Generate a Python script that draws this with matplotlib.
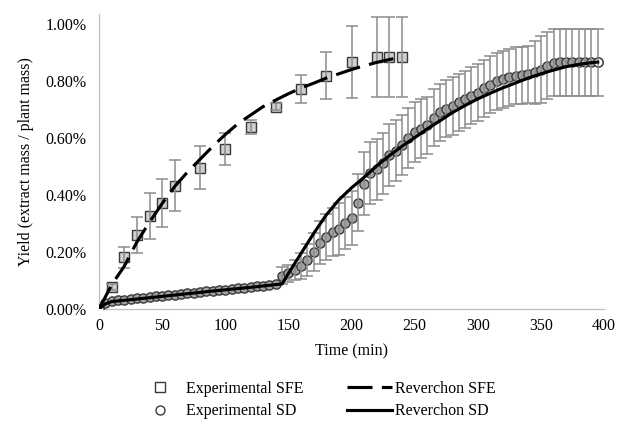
import matplotlib
matplotlib.use("Agg")
import matplotlib.pyplot as plt
from matplotlib.lines import Line2D
from matplotlib.ticker import FuncFormatter

plt.rcParams['font.family'] = ['Liberation Serif', 'DejaVu Serif']

# ---------------- data (yield in %) ----------------
t_sfe = [10, 20, 30, 40, 50, 60, 80, 100, 120, 140, 160, 180, 200, 220, 230, 240]
y_sfe = [0.077, 0.182, 0.260, 0.326, 0.372, 0.433, 0.495, 0.561, 0.639, 0.709,
         0.772, 0.818, 0.867, 0.884, 0.884, 0.884]
err_sfe = [0.010, 0.037, 0.062, 0.082, 0.084, 0.088, 0.075, 0.056, 0.025, 0.012,
           0.050, 0.082, 0.126, 0.140, 0.140, 0.140]

t_rev_sfe = [0, 10, 20, 30, 40, 50, 60, 70, 80, 90, 100, 110, 120, 130, 140, 150,
             160, 170, 180, 190, 200, 210, 220, 230, 240]
y_rev_sfe = [0.0, 0.085, 0.150, 0.235, 0.305, 0.370, 0.430, 0.480, 0.525, 0.570,
             0.612, 0.650, 0.680, 0.710, 0.733, 0.755, 0.775, 0.792, 0.810, 0.825,
             0.840, 0.853, 0.865, 0.875, 0.884]

t_sd = list(range(0, 400, 5))
y_sd = [0.000, 0.022, 0.027, 0.030, 0.032, 0.034, 0.037, 0.039, 0.041, 0.044,
        0.046, 0.048, 0.050, 0.053, 0.055, 0.057, 0.059, 0.062, 0.064, 0.066,
        0.068, 0.071, 0.073, 0.075, 0.077, 0.080, 0.082, 0.084, 0.086,
        0.116, 0.126, 0.137, 0.151, 0.172, 0.200, 0.232, 0.253, 0.270, 0.281,
        0.302, 0.319, 0.372, 0.439, 0.477, 0.490, 0.512, 0.540, 0.555, 0.575,
        0.600, 0.620, 0.633, 0.645, 0.670, 0.690, 0.703, 0.712, 0.725, 0.735,
        0.748, 0.759, 0.774, 0.786, 0.798, 0.805, 0.812, 0.818, 0.820, 0.823,
        0.830, 0.840, 0.853, 0.864,
        0.865, 0.865, 0.865, 0.865, 0.865, 0.865, 0.865]
err_sd = [0.0] * 29 + [
        0.030, 0.030, 0.035, 0.045, 0.055, 0.065, 0.075, 0.080, 0.085, 0.090,
        0.090, 0.095, 0.100, 0.110, 0.110, 0.107, 0.107, 0.108, 0.107, 0.106,
        0.105, 0.105, 0.103, 0.100, 0.100, 0.100, 0.100, 0.100, 0.100, 0.100,
        0.100, 0.100, 0.100, 0.100, 0.100, 0.100, 0.100, 0.100, 0.100, 0.100,
        0.110, 0.117, 0.118, 0.118,
        0.118, 0.118, 0.118, 0.118, 0.118, 0.118, 0.118]

t_rev_sd = [0, 5, 10, 30, 60, 90, 120, 145, 150, 160, 170, 180, 190, 200, 210, 220,
            230, 240, 250, 260, 270, 280, 290, 300, 310, 320, 330, 340, 350, 360,
            370, 380, 390, 395]
y_rev_sd = [0.0, 0.018, 0.026, 0.035, 0.049, 0.063, 0.076, 0.088, 0.125, 0.195,
            0.265, 0.330, 0.383, 0.425, 0.462, 0.502, 0.538, 0.571, 0.601, 0.632,
            0.660, 0.689, 0.714, 0.737, 0.757, 0.776, 0.793, 0.810, 0.825, 0.838,
            0.850, 0.858, 0.864, 0.866]

x_ticks = [0, 50, 100, 150, 200, 250, 300, 350, 400]
y_ticks = [0.0, 0.2, 0.4, 0.6, 0.8, 1.0]

# ---------------- figure ----------------
FS = 11.5
fig = plt.figure(figsize=(6.17, 4.24), dpi=100)
ax = fig.add_axes([0.1605, 0.2712, 0.8185, 0.696])

err_col = '#8c8c8c'
edge_col = '#3a3a3a'

# SFE experimental
ax.plot(t_sfe, y_sfe, linestyle='none', marker='s', markersize=7.2,
        markerfacecolor='#cfcfcf', markeredgecolor=edge_col, markeredgewidth=1.0,
        zorder=3)
ax.errorbar(t_sfe, y_sfe, yerr=err_sfe, fmt='none', ecolor=err_col,
            elinewidth=1.1, capsize=4.5, capthick=1.1, zorder=4)

# SD experimental
ax.plot(t_sd, y_sd, linestyle='none', marker='o', markersize=6.6,
        markerfacecolor='#a2a2a2', markeredgecolor=edge_col, markeredgewidth=1.0,
        zorder=3)
ax.plot([t_sd[0], t_sd[-1]], [y_sd[0], y_sd[-1]], linestyle='none', marker='o',
        markersize=6.6, markerfacecolor='white', markeredgecolor=edge_col,
        markeredgewidth=1.0, zorder=3.1)
te = [t for t, e in zip(t_sd, err_sd) if e > 0]
ye = [y for y, e in zip(y_sd, err_sd) if e > 0]
ee = [e for e in err_sd if e > 0]
ax.errorbar(te, ye, yerr=ee, fmt='none', ecolor=err_col,
            elinewidth=1.1, capsize=4.5, capthick=1.1, zorder=4)

# Model curves
ax.plot(t_rev_sfe, y_rev_sfe, color='black', linewidth=2.25,
        dashes=(8, 3), zorder=5, solid_capstyle='butt')
ax.plot(t_rev_sd, y_rev_sd, color='black', linewidth=2.25, zorder=5)

ax.set_xlim(0, 400)
ax.set_ylim(0, 1.035)
ax.set_xticks(x_ticks)
ax.set_yticks(y_ticks)
ax.yaxis.set_major_formatter(FuncFormatter(lambda v, p: f"{v:.2f}%"))
ax.tick_params(axis='both', length=0, labelsize=FS)
ax.tick_params(axis='y', pad=9)
ax.tick_params(axis='x', pad=6.5)
for s in ['top', 'right']:
    ax.spines[s].set_visible(False)
for s in ['left', 'bottom']:
    ax.spines[s].set_color('#bfbfbf')
    ax.spines[s].set_linewidth(0.9)

ax.set_xlabel('Time (min)', fontsize=FS, labelpad=6.5)
ax.set_ylabel('Yield (extract mass / plant mass)', fontsize=FS, labelpad=8)

handles = [
    Line2D([], [], linestyle='none', marker='s', markersize=6.5,
           markerfacecolor='white', markeredgecolor=edge_col, markeredgewidth=1.0),
    Line2D([], [], linestyle='none', marker='o', markersize=6.5,
           markerfacecolor='white', markeredgecolor=edge_col, markeredgewidth=1.0),
    Line2D([], [], color='black', linewidth=2.25, dashes=(8, 3)),
    Line2D([], [], color='black', linewidth=2.25),
]
labels = ['Experimental SFE', 'Experimental SD', 'Reverchon SFE', 'Reverchon SD']
fig.legend(handles, labels, loc='center', bbox_to_anchor=(0.514, 0.056),
           ncol=2, frameon=False, fontsize=FS, handlelength=2.8,
           handletextpad=0.2, columnspacing=2.75, labelspacing=0.4,
           borderpad=0.0)

fig.savefig('out.png', dpi=100)
